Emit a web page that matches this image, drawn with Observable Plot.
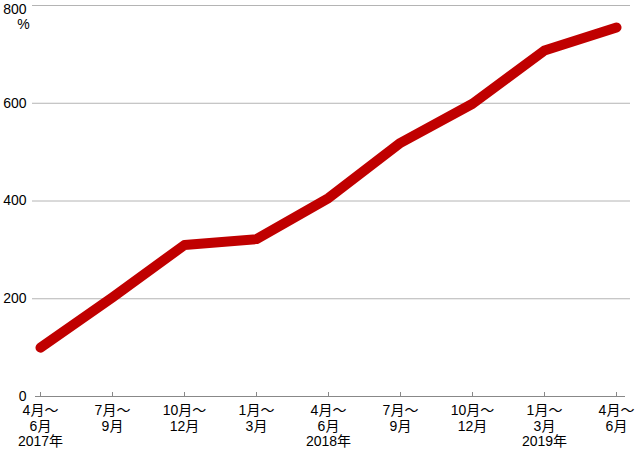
<!DOCTYPE html>
<html><head><meta charset="utf-8">
<script src="https://cdn.jsdelivr.net/npm/d3@7"></script>
<script src="https://cdn.jsdelivr.net/npm/@observablehq/plot@0.6"></script>
<style>body{margin:0;background:#fff}</style>
</head><body><div id="chart"></div>
<script>
const quarters = ["2017Q2","2017Q3","2017Q4","2018Q1","2018Q2","2018Q3","2018Q4","2019Q1","2019Q2"];
const quarterLabels = ["4月～\n6月\n2017年","7月～\n9月","10月～\n12月","1月～\n3月","4月～\n6月\n2018年","7月～\n9月","10月～\n12月","1月～\n3月\n2019年","4月～\n6月"];
const values = [100, 203, 310, 322, 406, 519, 599, 708, 755];
const yTicks = [0, 200, 400, 600];
const yTopTick = [800];
const yUnit = "%";

const data = quarters.map((q, i) => ({q, v: values[i]}));
const labelOf = Object.fromEntries(quarters.map((q, i) => [q, quarterLabels[i]]));
const font = "'Liberation Sans', 'Noto Sans CJK JP', sans-serif";

const chart = Plot.plot({
  width: 640, height: 451,
  marginLeft: 37, marginRight: 21, marginTop: 5, marginBottom: 55,
  style: {fontFamily: font, fontSize: "14px", color: "#000", background: "#fff"},
  x: {type: "point", domain: quarters, padding: 0, label: null},
  y: {domain: [0, 800], label: null},
  marks: [
    Plot.ruleY([200, 400, 600, 800], {stroke: "#b4b4b4", strokeWidth: 1, insetLeft: -5, insetRight: -11}),
    Plot.ruleY([0], {stroke: "#888", strokeWidth: 1, insetLeft: -2, insetRight: -6}),
    Plot.axisX({tickSize: -4, tickFormat: () => "", stroke: "#888", strokeOpacity: 1}),
    Plot.axisX({tickSize: 0, tickPadding: 7, tickFormat: d => labelOf[d], lineHeight: 1.13, fontSize: 14, fill: "#000", letterSpacing: "0.5px"}),
    Plot.axisY(yTicks, {tickSize: 0, tickPadding: 11, fontSize: 14, fill: "#000", dy: 0}),
    Plot.axisY(yTopTick, {tickSize: 0, tickPadding: 11, fontSize: 14, fill: "#000", dy: 4}),
    Plot.text([yUnit], {x: () => quarters[0], y: () => 800, text: d => d, dx: -17, dy: 19, fontSize: 14, fill: "#000"}),
    Plot.line(data, {x: "q", y: "v", stroke: "#c00000", strokeWidth: 10, strokeLinecap: "round", strokeLinejoin: "round"})
  ]
});
document.getElementById("chart").append(chart);
</script>
</body></html>
